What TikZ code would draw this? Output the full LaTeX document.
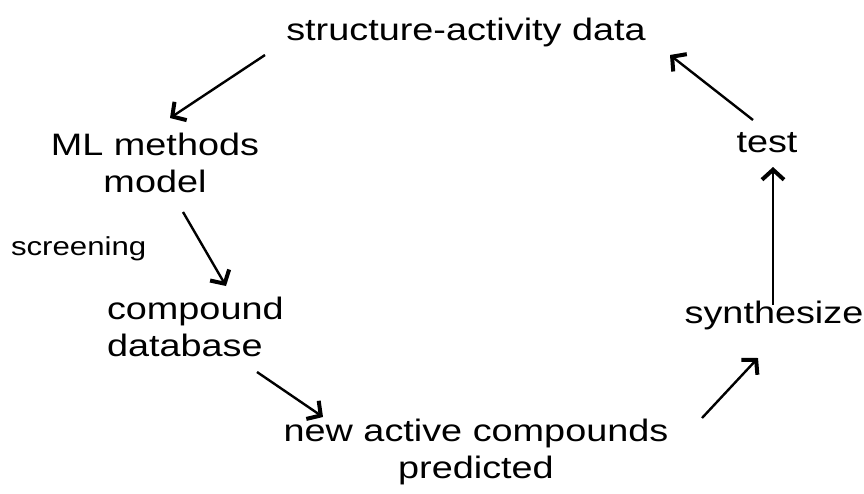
\documentclass[tikz,border=0pt]{standalone}
\usepackage{fontspec}
\setmainfont{Liberation Sans}
\usetikzlibrary{arrows.meta}

\begin{document}
\begin{tikzpicture}[x=1pt,y=-1pt,
    lbl/.style={font=\fontsize{31}{37}\selectfont, xscale=1.22, inner sep=0pt, outer sep=0pt, align=center, anchor=base},
    small/.style={font=\fontsize{26}{30}\selectfont, xscale=1.2, inner sep=0pt, outer sep=0pt, anchor=base west},
    arr/.style={line width=2.4pt, -{Straight Barb[length=10pt,width=22pt,line width=4pt]}}]
    \useasboundingbox (0,0) rectangle (864,493);

    % labels (multi-line nodes sit on their last baseline)
    \node[lbl] (sad) at (466,40) {structure-activity data};
    \node[lbl] (ml) at (155,192) {ML methods\\model};
    \node[small] (scr) at (11,255) {screening};
    \node[lbl, align=left, anchor=base west] (cdb) at (107,356) {compound\\database};
    \node[lbl] (nac) at (476,478) {new active compounds\\predicted};
    \node[lbl] (syn) at (774,323) {synthesize};
    \node[lbl] (tst) at (767,152) {test};

    % arrow ends
    \coordinate (sad-out) at (265,55);
    \coordinate (ml-in) at (170,118);
    \coordinate (ml-out) at (183,212);
    \coordinate (cdb-in) at (226,286);
    \coordinate (cdb-out) at (257,372);
    \coordinate (nac-in) at (323,417);
    \coordinate (nac-out) at (702,418);
    \coordinate (syn-in) at (758,358);
    \coordinate (syn-out) at (773,305);
    \coordinate (tst-in) at (773,167);
    \coordinate (tst-out) at (753,120);
    \coordinate (sad-in) at (670,55);

    \foreach \a/\b in {sad-out/ml-in, ml-out/cdb-in, cdb-out/nac-in, nac-out/syn-in, syn-out/tst-in, tst-out/sad-in} {
        \draw[arr] (\a) -- (\b);
    }
\end{tikzpicture}
\end{document}
